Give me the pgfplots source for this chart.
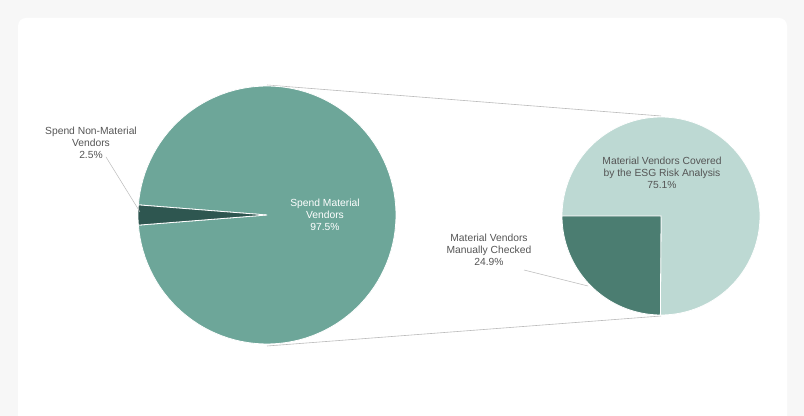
\documentclass[border=0pt]{standalone}
\usepackage{pgfplots}
\usepackage{pgfplotstable}
\pgfplotsset{compat=1.18}
\usepackage{fontspec}
\setmainfont{Liberation Sans}
\definecolor{bgout}{HTML}{F7F7F7}
\definecolor{mainteal}{HTML}{6DA699}
\definecolor{darkwedge}{HTML}{2E5650}
\definecolor{lightteal}{HTML}{BDD9D3}
\definecolor{midteal}{HTML}{4B7D71}
\definecolor{labgray}{HTML}{555555}
\definecolor{linegray}{HTML}{BBBBBB}
% main pie (percent)
\pgfplotstableread{
name value
NonMaterial 2.5
Material 97.5
}\mainpie
% sub pie (percent of material)
\pgfplotstableread{
name value
Manual 24.9
Covered 75.1
}\subpie
\pgfplotstablegetelem{0}{value}\of\mainpie \let\vNon\pgfplotsretval
\pgfplotstablegetelem{0}{value}\of\subpie \let\vMan\pgfplotsretval
\pgfmathsetmacro{\aS}{180-\vNon*3.6/2}
\pgfmathsetmacro{\aE}{180+\vNon*3.6/2}
\pgfmathsetmacro{\aEE}{\aS+360}
\pgfmathsetmacro{\bE}{180+\vMan*3.6}
\begin{document}
\begin{tikzpicture}
\path[use as bounding box] (0,0) rectangle (804bp,416bp);
\begin{axis}[at={(0,0)},anchor=south west,
  width=804bp,height=416bp,scale only axis,
  xmin=0,xmax=804,ymin=0,ymax=416,axis lines=none,clip=false]
\fill[bgout] (axis cs:0,0) rectangle (axis cs:804,416);
\fill[white,rounded corners=8bp] (axis cs:18,-20) rectangle (axis cs:787,398);
% connector lines
\addplot[linegray,line width=0.6bp] coordinates {(267,331) (661,300)};
\addplot[linegray,line width=0.6bp] coordinates {(267,70) (661,100)};
% main pie
\addplot[fill=mainteal,draw=white,line width=0.8bp,domain=\aE:\aEE,samples=120,variable=\t]
  ({267+129*cos(t)},{201+129*sin(t)}) -- (axis cs:267,201) -- cycle;
\addplot[fill=darkwedge,draw=white,line width=0.8bp,domain=\aS:\aE,samples=10,variable=\t]
  ({267+129*cos(t)},{201+129*sin(t)}) -- (axis cs:267,201) -- cycle;
% sub pie
\addplot[fill=lightteal,draw=white,line width=0.8bp,domain=\bE:540,samples=120,variable=\t]
  ({661+99*cos(t)},{200+99*sin(t)}) -- (axis cs:661,200) -- cycle;
\addplot[fill=midteal,draw=white,line width=0.8bp,domain=180:\bE,samples=60,variable=\t]
  ({661+99*cos(t)},{200+99*sin(t)}) -- (axis cs:661,200) -- cycle;
% leader lines
\addplot[linegray,line width=0.5bp] coordinates {(106,259) (140,204)};
\addplot[linegray,line width=0.5bp] coordinates {(524,146) (588,130)};
% labels
\node[labgray,font=\fontsize{10.3bp}{11.7bp}\selectfont,align=center] at (axis cs:91,273) {Spend Non-Material\\Vendors\\2.5\%};
\node[white,font=\fontsize{10.3bp}{11.7bp}\selectfont,align=center] at (axis cs:325,201) {Spend Material\\Vendors\\97.5\%};
\node[labgray,font=\fontsize{10.3bp}{11.7bp}\selectfont,align=center] at (axis cs:662,243) {Material Vendors Covered\\by the ESG Risk Analysis\\75.1\%};
\node[labgray,font=\fontsize{10.3bp}{11.7bp}\selectfont,align=center] at (axis cs:489,166) {Material Vendors\\Manually Checked\\24.9\%};
\end{axis}
\end{tikzpicture}
\end{document}
